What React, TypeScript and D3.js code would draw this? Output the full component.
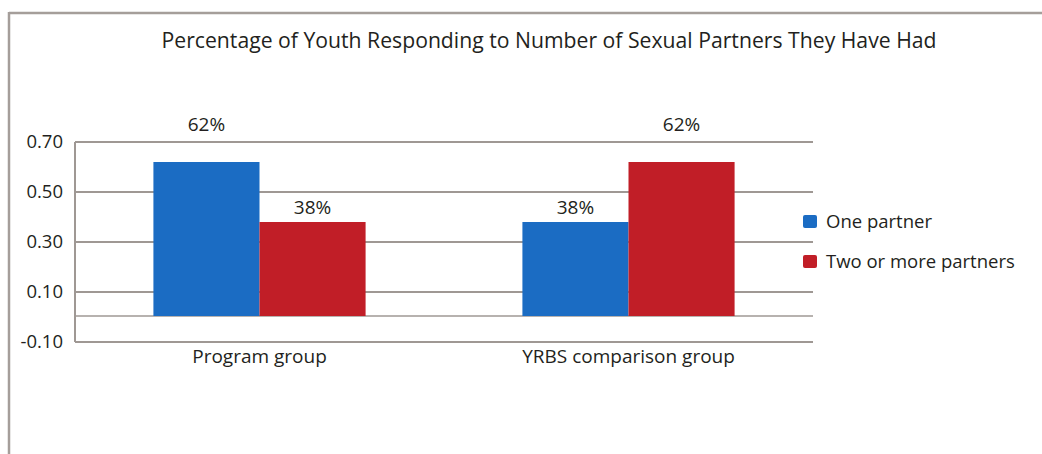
import React from "react";
import * as d3 from "d3";

const title = "Percentage of Youth Responding to Number of Sexual Partners They Have Had";
const categories = ["Program group", "YRBS comparison group"];
const seriesNames = ["One partner", "Two or more partners"];
const onePartner = [0.62, 0.38];
const twoOrMore = [0.38, 0.62];
const valueLabels = [["62%", "38%"], ["38%", "62%"]]; // [category][series]
const tickValues = [-0.1, 0.1, 0.3, 0.5, 0.7];
const tickLabels = ["-0.10", "0.10", "0.30", "0.50", "0.70"];

const colors = ["#1b6cc3", "#c11e27"];
const gridColor = "#9f9894";
const font = "'Open Sans', 'DejaVu Sans', sans-serif";

export default function App() {
  const W = 1042, H = 454;
  const left = 75, right = 813, top = 142, bottom = 342;
  const x0 = d3.scaleBand<string>().domain(categories).range([left, right]).paddingInner(0.425).paddingOuter(0.2125);
  const x1 = d3.scaleBand<string>().domain(seriesNames).range([0, x0.bandwidth()]);
  const y = d3.scaleLinear().domain([-0.1, 0.7]).range([bottom, top]);
  const series = [onePartner, twoOrMore];

  return (
    <svg width={W} height={H} style={{ position: "absolute", left: 0, top: 0, background: "#fff" }} fontFamily={font}>
      {/* frame */}
      <line x1={9} x2={W} y1={13} y2={13} stroke="#a59e9a" strokeWidth={2.5} />
      <line x1={9} x2={9} y1={12} y2={H} stroke="#a59e9a" strokeWidth={2.5} />

      <text x={549} y={48} textAnchor="middle" fontSize={22} fill="#231f20" textLength={775} lengthAdjust="spacingAndGlyphs">{title}</text>

      {/* gridlines */}
      {tickValues.map((t, i) => (
        <g key={i}>
          <line x1={left} x2={right} y1={y(t)} y2={y(t)} stroke={gridColor} strokeWidth={2} />
          <text x={63} y={y(t)} dy="0.35em" textAnchor="end" fontSize={18.5} fill="#231f20">{tickLabels[i]}</text>
        </g>
      ))}
      <line x1={left} x2={right} y1={y(0) - 1} y2={y(0) - 1} stroke={gridColor} strokeWidth={1.5} />
      <line x1={left} x2={left} y1={top} y2={bottom} stroke={gridColor} strokeWidth={2} />

      {/* bars */}
      {categories.map((c, ci) => (
        <g key={c} transform={`translate(${x0(c)},0)`}>
          {seriesNames.map((s, si) => {
            const v = series[si][ci];
            const bx = x1(s)!;
            const by = y(v);
            const h = y(0) - 1 - by;
            const ly = v > 0.5 ? y(0.7) - 11 : by - 8;
            const lw = 46;
            return (
              <g key={s}>
                <rect x={bx} y={by} width={x1.bandwidth()} height={h} fill={colors[si]} />
                <rect x={bx + x1.bandwidth() / 2 - lw / 2} y={ly - 18} width={lw} height={23} fill="#fff" />
                <text x={bx + x1.bandwidth() / 2} y={ly} textAnchor="middle" fontSize={19} fill="#231f20">{valueLabels[ci][si]}</text>
              </g>
            );
          })}
          <text x={x0.bandwidth() / 2} y={363} textAnchor="middle" fontSize={19} fill="#231f20">{c}</text>
        </g>
      ))}

      {/* legend */}
      {seriesNames.map((s, i) => (
        <g key={s} transform={`translate(803,${215 + i * 40})`}>
          <rect x={0} y={0} width={14} height={13} rx={2} fill={colors[i]} />
          <text x={23} y={13} fontSize={18.5} fill="#231f20">{s}</text>
        </g>
      ))}
    </svg>
  );
}
